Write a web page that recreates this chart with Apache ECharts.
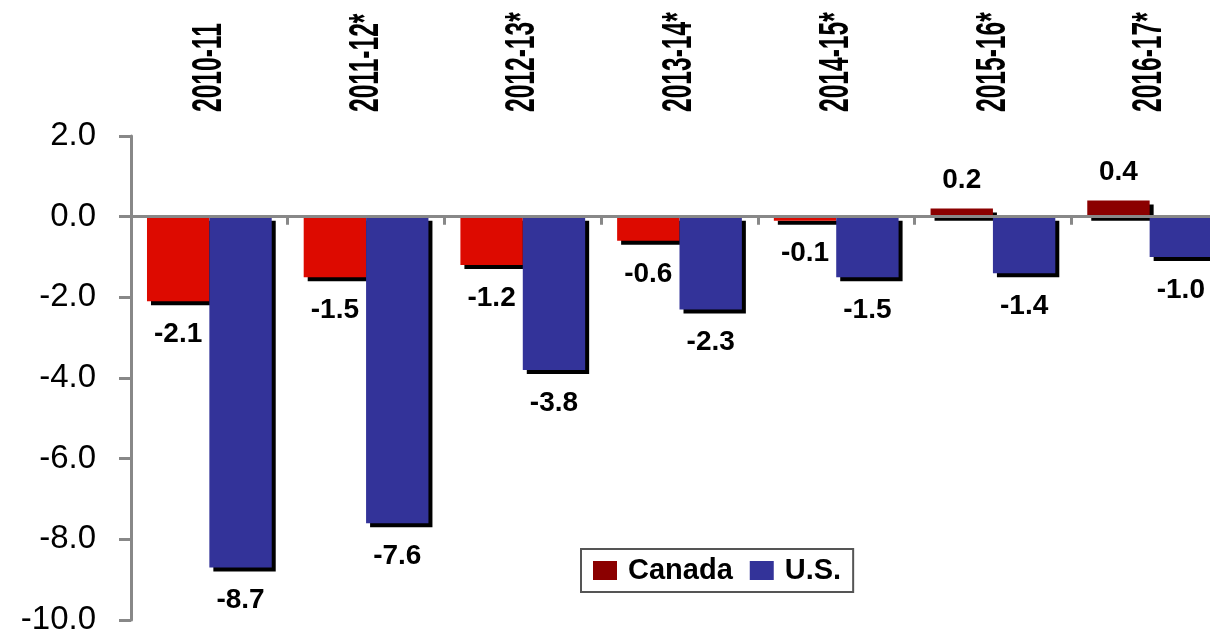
<!DOCTYPE html>
<html>
<head>
<meta charset="utf-8">
<script src="https://cdn.jsdelivr.net/npm/echarts@6/dist/echarts.min.js"></script>
<style>
  html, body { margin: 0; padding: 0; background: #fff; }
  #chart { width: 1210px; height: 637px; }
</style>
</head>
<body>
<div id="chart"></div>
<script>
var years = ['2010-11', '2011-12*', '2012-13*', '2013-14*', '2014-15*', '2015-16*', '2016-17*'];
var canada = [-2.1, -1.5, -1.2, -0.6, -0.1, 0.2, 0.4];
var us = [-8.7, -7.6, -3.8, -2.3, -1.5, -1.4, -1.0];
var yTicks = { min: -10, max: 2, step: 2 };

var darkRed = '#8B0000', brightRed = '#DD0A00', blue = '#333399';
var gridTop = 136;

function barData(vals, negColor) {
  return vals.map(function (v) {
    var item = {
      value: v,
      label: { position: v < 0 ? 'bottom' : 'top', distance: v < 0 ? 19 : 14 }
    };
    if (negColor && v < 0) item.itemStyle = { color: negColor };
    return item;
  });
}

var barStyle = { shadowColor: '#000', shadowBlur: 0, shadowOffsetX: 4, shadowOffsetY: 4 };
var labelStyle = {
  show: true, color: '#000', fontSize: 28, fontWeight: 'bold',
  fontFamily: 'Liberation Sans, Arial, sans-serif',
  formatter: function (p) { return p.value.toFixed(1); }
};

var myChart = echarts.init(document.getElementById('chart'));
myChart.setOption({
  animation: false,
  grid: { left: 131, right: -18, top: gridTop, bottom: 17, containLabel: false, outerBoundsMode: 'none' },
  legend: {
    left: 581, top: 549,
    padding: [7, 12],
    borderColor: '#555', borderWidth: 2,
    itemWidth: 24, itemHeight: 19, itemGap: 17,
    icon: 'rect',
    textStyle: { fontSize: 29, fontWeight: 'bold', color: '#000',
      fontFamily: 'Liberation Sans, Arial, sans-serif', padding: [0, 0, 0, 6] },
    data: ['Canada', 'U.S.']
  },
  xAxis: {
    type: 'category', data: years, position: 'bottom', z: 10,
    axisLine: { onZero: true, lineStyle: { color: '#888', width: 3 } },
    axisTick: { show: true, length: 8, lineStyle: { color: '#888', width: 3 } },
    axisLabel: { show: false }
  },
  yAxis: {
    type: 'value', min: yTicks.min, max: yTicks.max, interval: yTicks.step,
    splitLine: { show: false },
    axisLine: { show: true, lineStyle: { color: '#888', width: 3 } },
    axisTick: { show: true, length: 12, lineStyle: { color: '#888', width: 3 } },
    axisLabel: {
      margin: 35, color: '#000', fontSize: 33,
      fontFamily: 'Liberation Sans, Arial, sans-serif',
      formatter: function (v) { return v.toFixed(1); }
    }
  },
  series: [
    {
      name: 'Canada', type: 'bar', data: barData(canada, brightRed),
      barGap: '0%', barCategoryGap: '20.4%',
      itemStyle: Object.assign({ color: darkRed }, barStyle),
      label: labelStyle
    },
    {
      name: 'U.S.', type: 'bar', data: barData(us),
      barGap: '0%', barCategoryGap: '20.4%',
      itemStyle: Object.assign({ color: blue }, barStyle),
      label: labelStyle
    }
  ]
});

// condensed, rotated category labels above the plot (narrow bold style)
var catLabels = years.map(function (y) {
  var x = myChart.convertToPixel({ xAxisIndex: 0 }, y);
  return {
    type: 'text', x: x, y: gridTop - 24, rotation: Math.PI / 2, scaleX: 0.585,
    style: {
      text: y, fill: '#000', align: 'left', verticalAlign: 'middle',
      font: 'bold 42px "Liberation Sans", Arial, sans-serif'
    }
  };
});
myChart.setOption({ graphic: catLabels });
</script>
</body>
</html>
